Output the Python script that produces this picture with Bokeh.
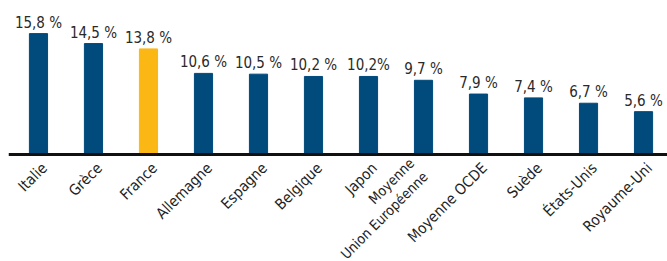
from bokeh.plotting import figure
from bokeh.models import ColumnDataSource, Range1d, Span
from bokeh.core.properties import value
from bokeh.embed import file_html
from bokeh.resources import INLINE
import math

countries = ["Italie", "Grèce", "France", "Allemagne", "Espagne", "Belgique", "Japon",
             "Moyenne\nUnion Européenne", "Moyenne OCDE", "Suède", "États-Unis", "Royaume-Uni"]
values = [15.8, 14.5, 13.8, 10.6, 10.5, 10.2, 10.2, 9.7, 7.9, 7.4, 6.7, 5.6]
value_labels = ["15,8 %", "14,5 %", "13,8 %", "10,6 %", "10,5 %", "10,2 %", "10,2%",
                "9,7 %", "7,9 %", "7,4 %", "6,7 %", "5,6 %"]
highlight = "France"

BLUE = "#004a7c"
YELLOW = "#fbb713"
FONT = "DejaVu Sans Condensed"

xs = list(range(len(countries)))
colors = [YELLOW if c == highlight else BLUE for c in countries]
src = ColumnDataSource(dict(x=xs, top=values, color=colors, lab=value_labels))

single = [i for i, c in enumerate(countries) if "\n" not in c]
multi = [i for i, c in enumerate(countries) if "\n" in c]
src_single = ColumnDataSource(dict(x=[xs[i] for i in single], y=[0] * len(single),
                                   name=[countries[i] for i in single]))
src_multi = ColumnDataSource(dict(x=[xs[i] for i in multi], y=[0] * len(multi),
                                  name=[countries[i] for i in multi]))

p = figure(width=667, height=261, output_backend="svg", toolbar_location=None,
           x_range=Range1d(-0.545, 11.436), y_range=Range1d(-13.99, 20.13),
           min_border_left=8, min_border_right=0, min_border_top=0, min_border_bottom=0)
p.vbar(x="x", top="top", bottom=0, width=0.33, color="color", source=src)
p.text(x="x", y="top", text="lab", source=src, text_align="center", text_baseline="bottom",
       y_offset=-2, text_font=value(FONT), text_font_size="15px", text_color="#2a2a2a")

p.text(x="x", y="y", text="name", source=src_single, angle=math.pi / 4,
       text_align="right", text_baseline="middle", x_offset=6, y_offset=11,
       text_font=value(FONT), text_font_size="15px", text_color="#1e1e1e")
p.text(x="x", y="y", text="name", source=src_multi, angle=math.pi / 4,
       text_align="right", text_baseline="middle", x_offset=-5, y_offset=13,
       text_font=value(FONT), text_font_size="14px", text_color="#1e1e1e")

p.add_layout(Span(location=0, dimension="width", line_color="#111111", line_width=3))

p.outline_line_color = None
p.xgrid.visible = False
p.ygrid.visible = False
p.xaxis.visible = False
p.yaxis.visible = False

open("out.html", "w").write(file_html(p, INLINE))
